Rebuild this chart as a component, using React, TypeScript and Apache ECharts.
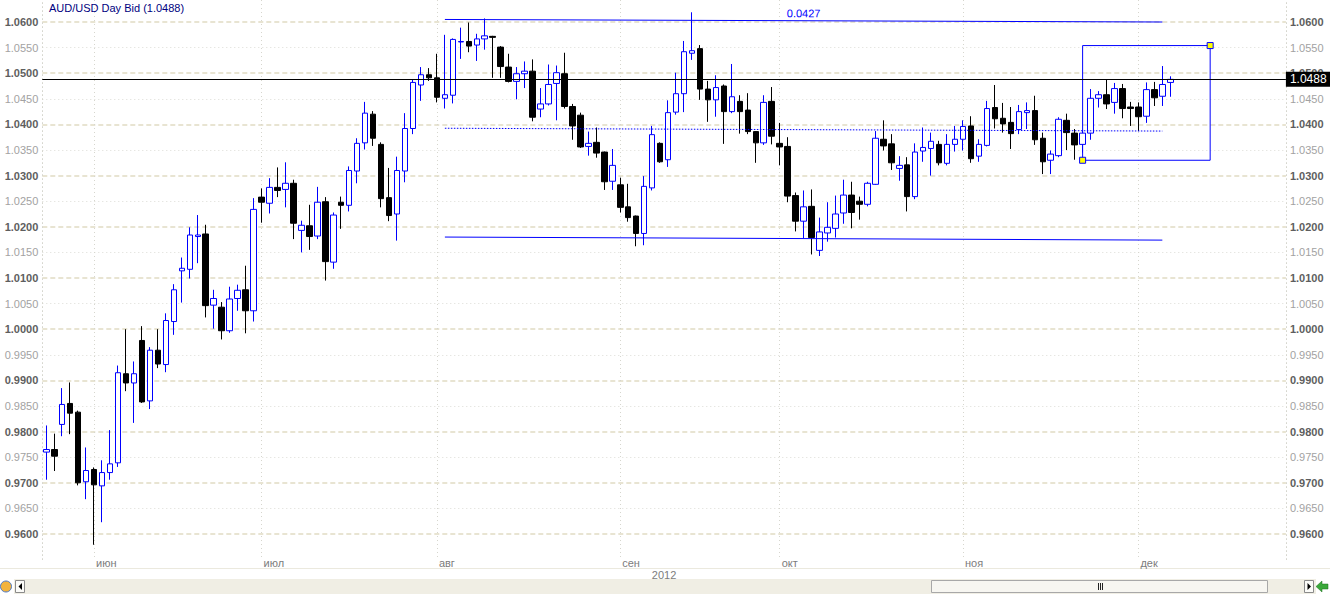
import React, { useEffect, useRef } from 'react';
import * as echarts from 'echarts';

// ---- data ----
const startYear = 2012;
const startMonth = 4; // May (0-based)
const startDay = 24;
const futureSlots = 14;

const openPrices = [
  0.9760, 0.9765, 0.9814, 0.9855, 0.9838, 0.9702, 0.9726, 0.9694, 0.9720, 0.9739,
  0.9913, 0.9895, 0.9978, 0.9860, 0.9959, 0.9931, 1.0015, 1.0114, 1.0117, 1.0181,
  1.0186, 1.0047, 1.0043, 0.9997, 1.0060, 1.0077, 1.0036, 1.0258, 1.0246, 1.0277,
  1.0273, 1.0285, 1.0193, 1.0202, 1.0182, 1.0249, 1.0131, 1.0248, 1.0242, 1.0309,
  1.0364, 1.0420, 1.0361, 1.0257, 1.0225, 1.0309, 1.0392, 1.0477, 1.0497, 1.0491,
  1.0451, 1.0457, 1.0561, 1.0562, 1.0555, 1.0567, 1.0572, 1.0551, 1.0512, 1.0484,
  1.0499, 1.0504, 1.0430, 1.0440, 1.0480, 1.0499, 1.0435, 1.0418, 1.0357, 1.0365,
  1.0346, 1.0289, 1.0282, 1.0239, 1.0221, 1.0187, 1.0276, 1.0363, 1.0331, 1.0424,
  1.0460, 1.0539, 1.0548, 1.0469, 1.0448, 1.0475, 1.0425, 1.0445, 1.0428, 1.0386,
  1.0364, 1.0445, 1.0363, 1.0357, 1.0261, 1.0211, 1.0240, 1.0154, 1.0188, 1.0197,
  1.0227, 1.0262, 1.0250, 1.0244, 1.0283, 1.0371, 1.0362, 1.0314, 1.0321, 1.0259,
  1.0348, 1.0353, 1.0361, 1.0324, 1.0361, 1.0371, 1.0397, 1.0338, 1.0359, 1.0433,
  1.0412, 1.0404, 1.0390, 1.0423, 1.0427, 1.0373, 1.0330, 1.0339, 1.0408, 1.0383,
  1.0361, 1.0383, 1.0451, 1.0458, 1.0443, 1.0470, 1.0434, 1.0434, 1.0416, 1.0468,
  1.0455, 1.0482,
];
const closePrices = [
  0.9765, 0.9752, 0.9853, 0.9836, 0.9700, 0.9724, 0.9696, 0.9720, 0.9737, 0.9915,
  0.9895, 0.9913, 0.9858, 0.9959, 0.9932, 1.0017, 1.0077, 1.0119, 1.0184, 1.0184,
  1.0046, 1.0060, 0.9997, 1.0059, 1.0076, 1.0036, 1.0234, 1.0248, 1.0277, 1.0271,
  1.0285, 1.0207, 1.0203, 1.0181, 1.0248, 1.0132, 1.0223, 1.0242, 1.0310, 1.0363,
  1.0422, 1.0373, 1.0255, 1.0222, 1.0310, 1.0392, 1.0482, 1.0497, 1.0491, 1.0453,
  1.0458, 1.0566, 1.0562, 1.0553, 1.0567, 1.0573, 1.0570, 1.0513, 1.0484, 1.0499,
  1.0504, 1.0414, 1.0440, 1.0478, 1.0501, 1.0435, 1.0397, 1.0356, 1.0363, 1.0344,
  1.0288, 1.0320, 1.0238, 1.0218, 1.0187, 1.0279, 1.0380, 1.0327, 1.0423, 1.0460,
  1.0542, 1.0544, 1.0469, 1.0448, 1.0472, 1.0425, 1.0454, 1.0425, 1.0386, 1.0364,
  1.0443, 1.0377, 1.0356, 1.0260, 1.0211, 1.0239, 1.0179, 1.0190, 1.0199, 1.0225,
  1.0262, 1.0228, 1.0244, 1.0285, 1.0373, 1.0358, 1.0325, 1.0320, 1.0259, 1.0346,
  1.0355, 1.0367, 1.0325, 1.0361, 1.0371, 1.0396, 1.0333, 1.0361, 1.0431, 1.0411,
  1.0401, 1.0382, 1.0425, 1.0427, 1.0370, 1.0327, 1.0342, 1.0410, 1.0384, 1.0360,
  1.0383, 1.0451, 1.0458, 1.0440, 1.0470, 1.0431, 1.0431, 1.0415, 1.0468, 1.0452,
  1.0478, 1.0488,
];
const lowPrices = [
  0.9706, 0.9723, 0.9791, 0.9795, 0.9695, 0.9668, 0.9579, 0.9623, 0.9706, 0.9731,
  0.9879, 0.9817, 0.9856, 0.9844, 0.9924, 0.9916, 0.9989, 1.0052, 1.0099, 1.0129,
  1.0023, 1.0001, 0.9980, 0.9993, 1.0036, 0.9992, 1.0015, 1.0208, 1.0226, 1.0258,
  1.0238, 1.0176, 1.0150, 1.0155, 1.0176, 1.0095, 1.0118, 1.0196, 1.0230, 1.0285,
  1.0351, 1.0358, 1.0238, 1.0211, 1.0173, 1.0287, 1.0381, 1.0446, 1.0485, 1.0443,
  1.0431, 1.0441, 1.0528, 1.0541, 1.0524, 1.0546, 1.0491, 1.0491, 1.0482, 1.0449,
  1.0471, 1.0406, 1.0414, 1.0437, 1.0408, 1.0431, 1.0370, 1.0354, 1.0339, 1.0335,
  1.0272, 1.0272, 1.0228, 1.0210, 1.0162, 1.0164, 1.0271, 1.0325, 1.0317, 1.0419,
  1.0424, 1.0526, 1.0448, 1.0405, 1.0415, 1.0362, 1.0422, 1.0382, 1.0381, 1.0325,
  1.0360, 1.0361, 1.0320, 1.0248, 1.0191, 1.0178, 1.0146, 1.0143, 1.0171, 1.0179,
  1.0206, 1.0197, 1.0214, 1.0240, 1.0282, 1.0349, 1.0311, 1.0290, 1.0230, 1.0254,
  1.0327, 1.0300, 1.0320, 1.0320, 1.0347, 1.0349, 1.0325, 1.0327, 1.0357, 1.0392,
  1.0384, 1.0352, 1.0381, 1.0391, 1.0360, 1.0303, 1.0303, 1.0336, 1.0350, 1.0331,
  1.0345, 1.0370, 1.0433, 1.0430, 1.0421, 1.0412, 1.0397, 1.0387, 1.0403, 1.0436,
  1.0436, 1.0454,
];
const highPrices = [
  0.9812, 0.9796, 0.9885, 0.9896, 0.9841, 0.9769, 0.9730, 0.9744, 0.9803, 0.9929,
  1.0000, 0.9937, 1.0006, 0.9965, 1.0000, 1.0031, 1.0088, 1.0140, 1.0199, 1.0223,
  1.0204, 1.0077, 1.0053, 1.0083, 1.0087, 1.0124, 1.0256, 1.0275, 1.0295, 1.0316,
  1.0326, 1.0292, 1.0212, 1.0243, 1.0278, 1.0258, 1.0228, 1.0259, 1.0318, 1.0373,
  1.0444, 1.0426, 1.0365, 1.0315, 1.0337, 1.0422, 1.0488, 1.0512, 1.0510, 1.0538,
  1.0575, 1.0568, 1.0589, 1.0599, 1.0577, 1.0607, 1.0573, 1.0553, 1.0538, 1.0512,
  1.0523, 1.0527, 1.0471, 1.0517, 1.0515, 1.0540, 1.0440, 1.0423, 1.0386, 1.0394,
  1.0347, 1.0352, 1.0296, 1.0284, 1.0222, 1.0299, 1.0397, 1.0365, 1.0447, 1.0501,
  1.0563, 1.0619, 1.0555, 1.0485, 1.0496, 1.0478, 1.0518, 1.0457, 1.0461, 1.0387,
  1.0457, 1.0473, 1.0403, 1.0375, 1.0267, 1.0271, 1.0273, 1.0218, 1.0248, 1.0261,
  1.0292, 1.0288, 1.0259, 1.0288, 1.0387, 1.0408, 1.0381, 1.0338, 1.0336, 1.0363,
  1.0394, 1.0384, 1.0368, 1.0381, 1.0397, 1.0408, 1.0416, 1.0371, 1.0446, 1.0477,
  1.0442, 1.0434, 1.0438, 1.0443, 1.0456, 1.0384, 1.0349, 1.0414, 1.0421, 1.0391,
  1.0388, 1.0469, 1.0465, 1.0488, 1.0481, 1.0479, 1.0444, 1.0443, 1.0482, 1.0483,
  1.0514, 1.0494,
];

const monthNames = ['янв', 'фев', 'мар', 'апр', 'май', 'июн', 'июл', 'авг', 'сен', 'окт', 'ноя', 'дек'];
const yearLabel = '2012';
const titleText = 'AUD/USD Day Bid (1.0488)';
const lastPrice = 1.0488;

const yMin = 0.955;
const yMax = 1.0643;
const yStep = 0.005;
const yTickCount = 23;

// channel tool
const channelStartIdx = 50;
const channelEndIdx = 140;
const channelTop = [1.0605, 1.0600];
const channelBottom = [1.0180, 1.0174];
const channelMid = [1.03925, 1.0387];
const channelLabel = '0.0427';

// box tool
const boxStartIdx = 130;
const boxEndIdx = 146;
const boxTop = 1.0554;
const boxBottom = 1.0330;

const FONT = "'Liberation Sans', Arial, sans-serif";

function buildDates(n: number): string[] {
  const out: string[] = [];
  const d = new Date(Date.UTC(startYear, startMonth, startDay));
  while (out.length < n) {
    const wd = d.getUTCDay();
    if (wd !== 0 && wd !== 6) out.push(d.toISOString().slice(0, 10));
    d.setUTCDate(d.getUTCDate() + 1);
  }
  return out;
}

export default function App() {
  const ref = useRef<HTMLDivElement>(null);

  useEffect(() => {
    if (!ref.current) return;
    const chart = echarts.init(ref.current, undefined, { renderer: 'svg' });

    const n = openPrices.length;
    const dates = buildDates(n + futureSlots);
    const isMonthStart = dates.map((d, i) => i > 0 && d.slice(5, 7) !== dates[i - 1].slice(5, 7));

    const candles = openPrices.map((o, i) => [o, closePrices[i], lowPrices[i], highPrices[i]]);

    const majorColors: string[] = [];
    const minorColors: string[] = [];
    for (let i = 0; i < yTickCount; i++) {
      const isMajor = i % 2 === 1;
      majorColors.push(isMajor ? '#e8e4d2' : 'rgba(0,0,0,0)');
      minorColors.push(!isMajor && i > 0 && i < yTickCount - 1 ? '#dcdcd6' : 'rgba(0,0,0,0)');
    }

    const yLabelFormatter = (v: number) => {
      if (v < yMin + yStep / 2 || v > yMax - yStep / 2) return '';
      const s = v.toFixed(4);
      return Math.round(v * 1000) % 10 === 0 ? `{a|${s}}` : `{b|${s}}`;
    };
    const yRich = {
      a: { color: '#5e5e5e', fontWeight: 'bold', fontSize: 11, fontFamily: FONT },
      b: { color: '#a2a2a2', fontSize: 11, fontFamily: FONT },
    };

    const blue = '#0000ff';

    const option: any = {
      animation: false,
      backgroundColor: '#ffffff',
      textStyle: { fontFamily: FONT },
      title: {
        text: titleText,
        left: 49,
        top: 2,
        padding: 0,
        textStyle: { fontSize: 11, color: '#000080', fontWeight: 'normal', fontFamily: FONT },
      },
      grid: { left: 42.3, width: 1243.6, top: 0, height: 559.6, containLabel: false },
      xAxis: {
        type: 'category',
        data: dates,
        boundaryGap: true,
        axisLine: { show: false },
        axisTick: { show: false },
        axisLabel: {
          interval: (i: number) => isMonthStart[i],
          formatter: (v: string) => monthNames[parseInt(v.slice(5, 7), 10) - 1],
          align: 'left',
          verticalAlign: 'middle',
          margin: 3,
          padding: [0, 0, 0, 2],
          color: '#7c7c7c',
          fontSize: 11,
          fontFamily: FONT,
        },
        splitLine: {
          show: true,
          interval: (i: number) => isMonthStart[i],
          alignWithLabel: true,
          lineStyle: { color: '#d6d6ce', width: 1, type: [1, 3] },
        },
        name: yearLabel,
        nameLocation: 'middle',
        nameGap: 10,
        nameMoveOverlap: false,
        nameTextStyle: { color: '#7c7c7c', fontSize: 11, fontFamily: FONT, verticalAlign: 'top' },
      },
      yAxis: [
        {
          type: 'value',
          position: 'right',
          min: yMin,
          max: yMax,
          interval: yStep,
          axisLine: { show: true, lineStyle: { color: '#d6d6ce', type: [1, 3] } },
          axisTick: { show: false },
          axisLabel: { margin: 4, formatter: yLabelFormatter, rich: yRich, showMaxLabel: false },
          splitLine: { show: true, lineStyle: { color: majorColors, width: 2, type: [5, 3] } },
        },
        {
          type: 'value',
          position: 'left',
          min: yMin,
          max: yMax,
          interval: yStep,
          axisLine: { show: true, lineStyle: { color: '#d6d6ce', type: [1, 3] } },
          axisTick: { show: false },
          axisLabel: { margin: 4, formatter: yLabelFormatter, rich: yRich, showMaxLabel: false },
          splitLine: { show: true, lineStyle: { color: minorColors, width: 1, type: [1, 3] } },
        },
      ],
      series: [
        {
          type: 'candlestick',
          data: candles,
          barWidth: 6,
          yAxisIndex: 0,
          itemStyle: {
            color: '#ffffff',
            color0: '#000000',
            borderColor: blue,
            borderColor0: '#000000',
            borderWidth: 1,
          },
          markLine: {
            silent: true,
            precision: 4,
            symbol: ['none', 'none'],
            animation: false,
            label: { show: false },
            data: [
              {
                yAxis: lastPrice,
                lineStyle: { color: '#000000', width: 1, type: 'solid' },
                label: {
                  show: true,
                  position: 'end',
                  distance: 0,
                  formatter: lastPrice.toFixed(4),
                  backgroundColor: '#000000',
                  color: '#ffffff',
                  padding: [2, 4, 1, 4],
                  fontSize: 12,
                  fontFamily: FONT,
                },
              },
              [
                {
                  coord: [dates[channelStartIdx], channelTop[0]],
                  lineStyle: { color: blue, width: 1, type: 'solid' },
                  label: {
                    show: true,
                    position: 'middle',
                    distance: 2,
                    formatter: channelLabel,
                    color: blue,
                    fontSize: 11,
                    fontFamily: FONT,
                  },
                },
                { coord: [dates[channelEndIdx], channelTop[1]] },
              ],
              [
                {
                  coord: [dates[channelStartIdx], channelBottom[0]],
                  lineStyle: { color: blue, width: 1, type: 'solid' },
                },
                { coord: [dates[channelEndIdx], channelBottom[1]] },
              ],
              [
                {
                  coord: [dates[channelStartIdx], channelMid[0]],
                  lineStyle: { color: blue, width: 1, type: [1.5, 1.5] },
                },
                { coord: [dates[channelEndIdx], channelMid[1]] },
              ],
            ],
          },
          markArea: {
            silent: true,
            itemStyle: { color: 'rgba(0,0,0,0)', borderColor: blue, borderWidth: 1 },
            label: { show: false },
            data: [[{ coord: [dates[boxStartIdx], boxTop] }, { coord: [dates[boxEndIdx], boxBottom] }]],
          },
          markPoint: {
            silent: true,
            symbol: 'rect',
            symbolSize: 6,
            label: { show: false },
            itemStyle: { color: '#ffff00', borderColor: blue, borderWidth: 1 },
            data: [
              { coord: [dates[boxEndIdx], boxTop] },
              { coord: [dates[boxStartIdx], boxBottom] },
            ],
          },
        },
      ],
      graphic: [
        { type: 'line', shape: { x1: 0, y1: 568.5, x2: 1330, y2: 568.5 }, style: { stroke: '#ebe9de', lineWidth: 1 }, silent: true },
        // scrollbar track
        { type: 'rect', shape: { x: 14, y: 579, width: 1302, height: 15 }, style: { fill: '#f0eee4' }, silent: true },
        // left button
        { type: 'rect', shape: { x: 15.5, y: 580.5, width: 9, height: 12 }, style: { fill: '#fbfbf8', stroke: '#8a8a8a', lineWidth: 1 }, silent: true },
        { type: 'polygon', shape: { points: [[22, 583], [22, 590], [18.5, 586.5]] }, style: { fill: '#000000' }, silent: true },
        // thumb
        { type: 'rect', shape: { x: 931.5, y: 580.5, width: 336, height: 12 }, style: { fill: '#f7f6f1', stroke: '#a8a8a8', lineWidth: 1 }, silent: true },
        { type: 'line', shape: { x1: 1098.5, y1: 583, x2: 1098.5, y2: 590 }, style: { stroke: '#222', lineWidth: 1 }, silent: true },
        { type: 'line', shape: { x1: 1100.5, y1: 583, x2: 1100.5, y2: 590 }, style: { stroke: '#222', lineWidth: 1 }, silent: true },
        { type: 'line', shape: { x1: 1102.5, y1: 583, x2: 1102.5, y2: 590 }, style: { stroke: '#222', lineWidth: 1 }, silent: true },
        // right button
        { type: 'rect', shape: { x: 1304.5, y: 580.5, width: 9, height: 12 }, style: { fill: '#fbfbf8', stroke: '#8a8a8a', lineWidth: 1 }, silent: true },
        { type: 'polygon', shape: { points: [[1307.5, 583], [1307.5, 590], [1311, 586.5]] }, style: { fill: '#000000' }, silent: true },
        // left icon
        { type: 'circle', shape: { cx: 6, cy: 586.5, r: 5.5 }, style: { fill: '#f2b33d', stroke: '#4a78c8', lineWidth: 1 }, silent: true },
        // right icon (green arrow)
        { type: 'polygon', shape: { points: [[1316, 586.5], [1322, 581], [1322, 584], [1328, 584], [1328, 589], [1322, 589], [1322, 592]] }, style: { fill: '#3aa83a', stroke: '#1f6d1f', lineWidth: 0.5 }, silent: true },
      ],
    };

    chart.setOption(option);
    return () => chart.dispose();
  }, []);

  return (
    <div
      ref={ref}
      style={{ position: 'fixed', left: 0, top: 0, width: 1330, height: 594, background: '#fff' }}
    />
  );
}
